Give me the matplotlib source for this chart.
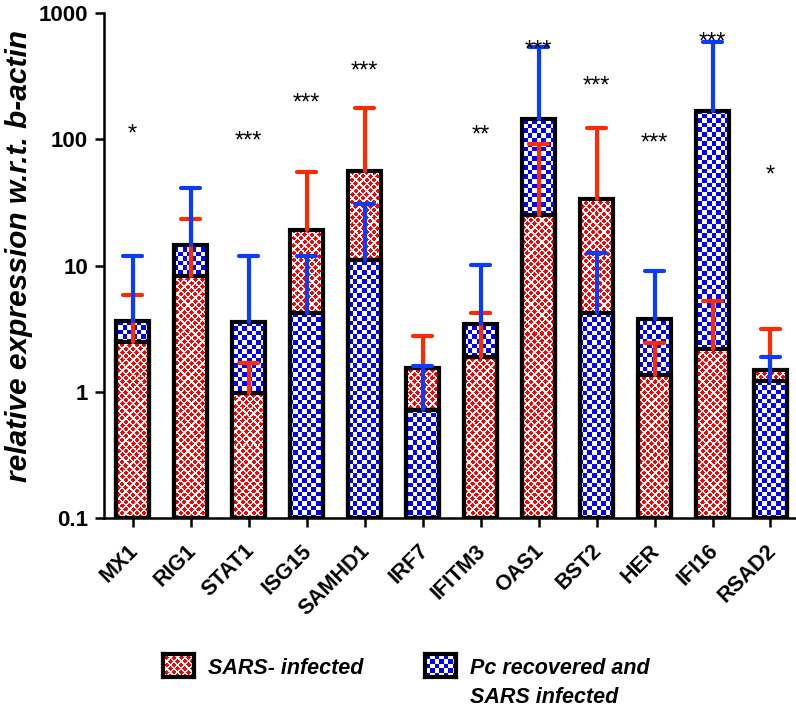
import numpy as np
import matplotlib
matplotlib.use("Agg")
import matplotlib.pyplot as plt
from matplotlib.transforms import ScaledTranslation

plt.rcParams['font.family'] = ['Liberation Sans', 'DejaVu Sans']

genes = ["MX1", "RIG1", "STAT1", "ISG15", "SAMHD1", "IRF7", "IFITM3",
         "OAS1", "BST2", "HER", "IFI16", "RSAD2"]
sars_mean = [2.46, 8.2, 0.98, 19.2, 56.5, 1.54, 1.88, 25.2, 33.6, 1.35, 2.18, 1.49]
sars_err_top = [5.83, 23.4, 1.69, 55.5, 176, 2.77, 4.2, 91.4, 122, 2.43, 5.28, 3.14]
pc_mean = [3.65, 14.6, 3.54, 4.2, 11.1, 0.72, 3.45, 144, 4.2, 3.78, 168, 1.22]
pc_err_top = [11.8, 41.0, 11.9, 11.8, 30.8, 1.61, 10.1, 536, 12.5, 9.03, 594, 1.9]
sig_labels = ["*", "", "***", "***", "***", "", "**", "***", "***", "***", "***", "*"]
sig_y = [108, None, 96, 191, 344, None, 107, 504, 261, 92, 587, 51.6]
yticks = [0.1, 1, 10, 100, 1000]
ytick_labels = ["0.1", "1", "10", "100", "1000"]
legend_labels = [["SARS- infected"], ["Pc recovered and", "SARS infected"]]
ylabel = "relative expression w.r.t. b-actin"

RED_ERR = "#ff2a00"
BLUE_ERR = "#0a3cff"


def texture(kind, h, w):
    yy, xx = np.mgrid[0:h, 0:w].astype(float)
    img = np.ones((h, w, 3))
    if kind == "check":
        s = 4.6
        mask = (np.floor(xx / s) + np.floor(yy / s)) % 2 == 0
        col = (0.0, 0.0, 1.0)
    else:
        p = 7.3
        u = (xx + 0.5) / p
        v = (yy + 0.5) / p
        d1 = (np.abs(u - np.round(u)) + np.abs(v - np.round(v))) * p
        u2, v2 = u + 0.5, v + 0.5
        d2 = (np.abs(u2 - np.round(u2)) + np.abs(v2 - np.round(v2))) * p
        mask = np.minimum(d1, d2) <= 2.5
        col = (1.0, 0.0, 0.0)
    img[mask] = col
    return img


W, H = 796, 710
fig = plt.figure(figsize=(W / 100, H / 100), dpi=100)
left, bottom = 104 / W, 1 - 518 / H
ax = fig.add_axes([left, bottom, 1 - left, (518 - 13) / H])
ax.set_yscale("log")
ax.set_xlim(-0.495, 11.44)
ax.set_ylim(0.1, 1000)
ax.set_autoscale_on(False)

aw = int(round((1 - left) * W))
ah = int(round((518 - 13)))
tex_red = texture("diamond", ah, aw)
tex_blue = texture("check", ah, aw)

x = np.arange(len(genes))
bw = 0.56
base = 0.1
edge_lw = 3.0

for i in x:
    items = [(sars_mean[i], tex_red), (pc_mean[i], tex_blue)]
    items.sort(key=lambda t: -t[0])
    for k, (val, tex) in enumerate(items):
        bars = ax.bar(i, val - base, bottom=base, width=bw, facecolor="white",
                      edgecolor="none", zorder=1 + k * 0.5)
        patch = bars[0]
        im = ax.imshow(tex, extent=[0, 1, 0, 1], transform=ax.transAxes,
                       interpolation="nearest", aspect="auto", origin="upper",
                       zorder=1.1 + k * 0.5)
        im.set_clip_path(patch)
    for k, (val, tex) in enumerate(items):
        ax.bar(i, val - base, bottom=base, width=bw, facecolor="none",
               edgecolor="black", linewidth=edge_lw, zorder=3 + k * 0.1)

cap_half = 0.16
err_lw = 3.0
for means, tops, col, z in [(sars_mean, sars_err_top, RED_ERR, 4),
                             (pc_mean, pc_err_top, BLUE_ERR, 4.5)]:
    for i in x:
        ax.plot([i, i], [means[i], tops[i]], color=col, lw=err_lw,
                solid_capstyle="round", zorder=z)
        ax.plot([i - cap_half, i + cap_half], [tops[i], tops[i]], color=col,
                lw=err_lw, solid_capstyle="round", zorder=z)

for i in x:
    if sig_labels[i]:
        ax.text(i, sig_y[i], sig_labels[i], ha="center", va="center",
                fontsize=17, color="black", zorder=6)

for s in ["top", "right"]:
    ax.spines[s].set_visible(False)
for s in ["left", "bottom"]:
    ax.spines[s].set_linewidth(1.8)
    ax.spines[s].set_zorder(5)

ax.set_yticks(yticks)
ax.set_yticklabels(ytick_labels, fontsize=16, fontweight="bold")
ax.yaxis.set_minor_locator(matplotlib.ticker.NullLocator())
ax.set_xticks(x)
ax.set_xticklabels(genes, rotation=45, ha="right", rotation_mode="anchor",
                   fontsize=15.5, fontweight="bold")
ax.tick_params(axis="both", which="major", length=6.5, width=1.8, direction="out")
ax.tick_params(axis="y", pad=5)
ax.tick_params(axis="x", pad=6)
off = ScaledTranslation(-0.05, -0.05, fig.dpi_scale_trans)
for lbl in ax.get_xticklabels():
    lbl.set_transform(lbl.get_transform() + off)

fig.text(19 / W, 1 - 256 / H, ylabel, rotation=90, ha="center", va="center",
         fontsize=21.5, fontweight="bold", fontstyle="italic")

# legend
for (sx, tex, lines) in [(163, "diamond", legend_labels[0]),
                         (425, "check", legend_labels[1])]:
    sw, sh = 31, 23
    lax = fig.add_axes([sx / W, 1 - (654 + sh) / H, sw / W, sh / H])
    lax.imshow(texture(tex, sh, sw), interpolation="nearest", aspect="auto")
    lax.set_xticks([])
    lax.set_yticks([])
    for sp in lax.spines.values():
        sp.set_linewidth(3)
    for j, line in enumerate(lines):
        fig.text((sx + 45) / W, 1 - (674 + 29 * j) / H, line, ha="left",
                 va="baseline", fontsize=15.5, fontweight="bold",
                 fontstyle="italic")

fig.savefig("out.png", dpi=100)
